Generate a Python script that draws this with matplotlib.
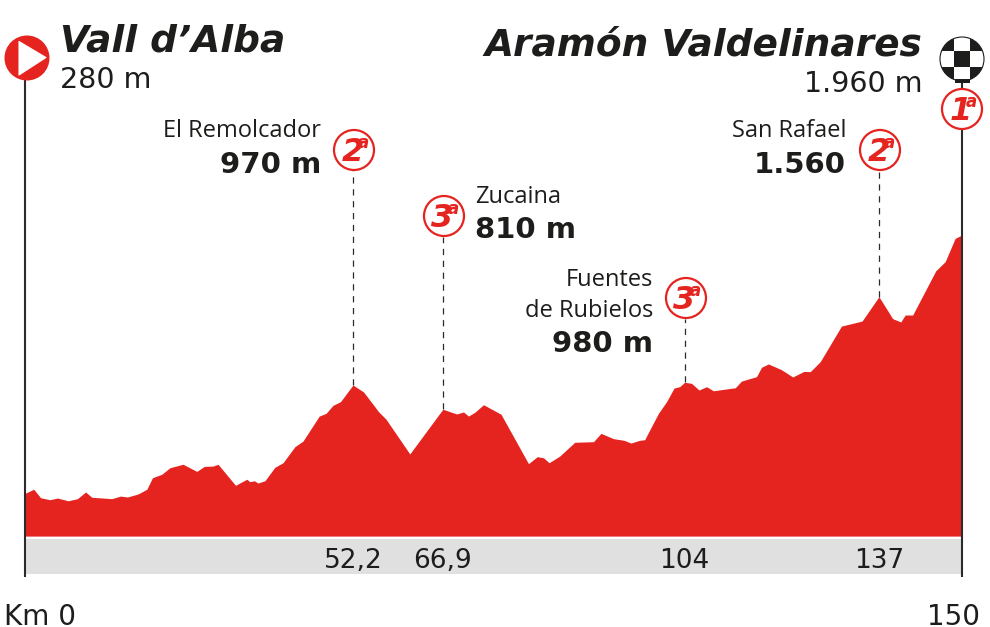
import matplotlib
matplotlib.use("Agg")
import matplotlib.pyplot as plt
from matplotlib.patches import Circle, Polygon, Rectangle

km = [0, 1.4, 2.5, 4.0, 5.2, 6.9, 8.4, 9.7, 10.7, 13.9, 15.3, 16.4, 18.1, 19.5, 20.4, 21.9, 23.2, 25.3,
      27.5, 28.7, 30.1, 30.9, 33.7, 35.5, 36.0, 36.7, 37.3, 38.4, 40.0, 41.3, 43.2, 44.5, 47.1, 48.2,
      49.3, 50.5, 52.5, 54.2, 56.6, 57.8, 61.6, 66.2, 66.9, 69.1, 70.2, 71.0, 72.0, 73.4, 76.2, 80.6,
      82.0, 83.0, 83.9, 85.6, 88.0, 91.0, 92.2, 94.2, 95.9, 97.0, 98.4, 99.2, 100.0, 101.4, 102.7, 103.9,
      104.8, 105.6, 106.7, 107.9, 109.1, 110.2, 113.7, 114.7, 117.1, 117.9, 119.0, 121.1, 122.9, 124.7,
      125.7, 127.3, 130.7, 134.0, 136.7, 138.9, 140.2, 140.9, 142.1, 145.8, 147.3, 148.9, 150]
elev = [255, 282, 226, 213, 224, 206, 220, 264, 229, 220, 237, 231, 251, 282, 358, 381, 424, 447,
        400, 433, 435, 447, 308, 348, 332, 338, 323, 338, 427, 457, 563, 600, 765, 783,
        836, 860, 970, 924, 794, 744, 515, 772, 810, 779, 792, 765, 790, 840, 777, 451,
        497, 490, 457, 501, 592, 596, 651, 616, 605, 587, 605, 609, 673, 783, 860, 950,
        959, 988, 981, 937, 959, 932, 952, 996, 1025, 1087, 1109, 1071, 1023, 1060,
        1058, 1124, 1359, 1392, 1553, 1408, 1386, 1432, 1432, 1724, 1784, 1938, 1960]

climb_km = [52.5, 66.9, 105.6, 136.7]
climb_elev = [970, 810, 988, 1553]
climb_cat = ["2", "3", "3", "2"]
climb_name = ["El Remolcador", "Zucaina", "Fuentes\nde Rubielos", "San Rafael"]
climb_height = ["970 m", "810 m", "980 m", "1.560"]
climb_tick = ["52,2", "66,9", "104", "137"]

RED = "#e5231f"
INK = "#1d1d1b"
NARROW = "Liberation Sans Narrow"
SANS = "Open Sans"

fig = plt.figure(figsize=(9.9, 6.27), dpi=100)
ax = fig.add_axes([0, 0, 1, 1])
ax.set_xlim(-4.002, 154.48)
ax.set_ylim(-627, 3511)
ax.axis("off")

px = fig.add_axes([0, 0, 1, 1], facecolor="none")
px.set_xlim(0, 990)
px.set_ylim(627, 0)
px.axis("off")

# profile
ax.fill_between(km, -27, elev, color=RED, lw=0)
px.add_patch(Rectangle((26, 539), 936, 35, fc="#e0e0e0", ec="none"))

# frame poles
px.plot([25, 25], [80, 577], color="#2b2b2b", lw=1.5, solid_capstyle="butt")
px.plot([962, 962], [78, 577], color="#2b2b2b", lw=1.5, solid_capstyle="butt")

# start icon
px.add_patch(Circle((27, 58), 22.5, fc=RED, ec="none", zorder=3))
px.add_patch(Polygon([(19, 41.5), (46, 57.5), (19, 75)], fc="white", ec="white", lw=0.8, joinstyle="round", zorder=4))

# finish icon
clip = Circle((962, 59), 22, transform=px.transData)
base = Circle((962, 59), 22, fc="white", ec="none", zorder=3)
px.add_patch(base)
for c in range(3):
    for r in range(3):
        if (c + r) % 2 == 0:
            sq = Rectangle((938 + c * 16, 35 + r * 16), 16, 16, fc="#1d1d1b", ec="none", zorder=4)
            px.add_patch(sq)
            sq.set_clip_path(clip)
px.add_patch(Circle((962, 59), 22, fc="none", ec="#1d1d1b", lw=0.8, zorder=5))
px.add_patch(Rectangle((955, 79), 15, 4, fc="#1d1d1b", ec="none", zorder=4))


def badge(x, y, num):
    px.add_patch(Circle((x, y), 20, fc="white", ec=RED, lw=1.6, zorder=6))
    px.text(x - 1.5, y + 11, num, family=NARROW, weight="bold", style="italic", color=RED,
            fontsize=23, ha="right" if False else "center", va="baseline", zorder=7)
    px.text(x + 9, y - 2, "a", family=NARROW, weight="bold", style="italic", color=RED,
            fontsize=12, ha="center", va="baseline", zorder=7)


def t(x, y, s, size, ha="left", family=NARROW, weight="normal", style="normal"):
    px.text(x, y, s, fontsize=size, ha=ha, va="baseline", family=family,
            weight=weight, style=style, color=INK)


# climbs
badge_px = [(354, 150), (444, 216), (686, 298), (880, 150)]
for k, e, (bx, by), c, tick in zip(climb_km, climb_elev, badge_px, climb_cat, climb_tick):
    ax.plot([k, k], [e, 970 + (385 - by - 21) * 6.6], color="#2b2b2b", lw=0.9, dashes=(5, 4.5))
    badge(bx, by, c)
    t(25 + k * 6.247, 568, tick, 19, ha="center")

badge(962, 109, "1")

# titles
t(60, 52, "Vall d\u2019Alba", 27, weight="bold", style="italic")
t(60, 88, "280 m", 20.5)
t(922, 56, "Aramón Valdelinares", 27, ha="right", weight="bold", style="italic")
t(923, 92, "1.960 m", 20.5, ha="right")

# climb names
t(321, 137, climb_name[0], 17, ha="right", family=SANS)
t(321, 173, climb_height[0], 21, ha="right", weight="bold")
t(475, 203, climb_name[1], 17, family=SANS)
t(475, 238, climb_height[1], 21, weight="bold")
t(653, 286, "Fuentes", 17, ha="right", family=SANS)
t(653, 317, "de Rubielos", 17, ha="right", family=SANS)
t(653, 352, climb_height[2], 21, ha="right", weight="bold")
t(847, 137, climb_name[3], 17, ha="right", family=SANS)
t(846, 173, climb_height[3], 21, ha="right", weight="bold")

# km ends
t(4, 625, "Km 0", 20)
t(954, 625, "150", 20, ha="center")

fig.savefig("out.png", dpi=100)
